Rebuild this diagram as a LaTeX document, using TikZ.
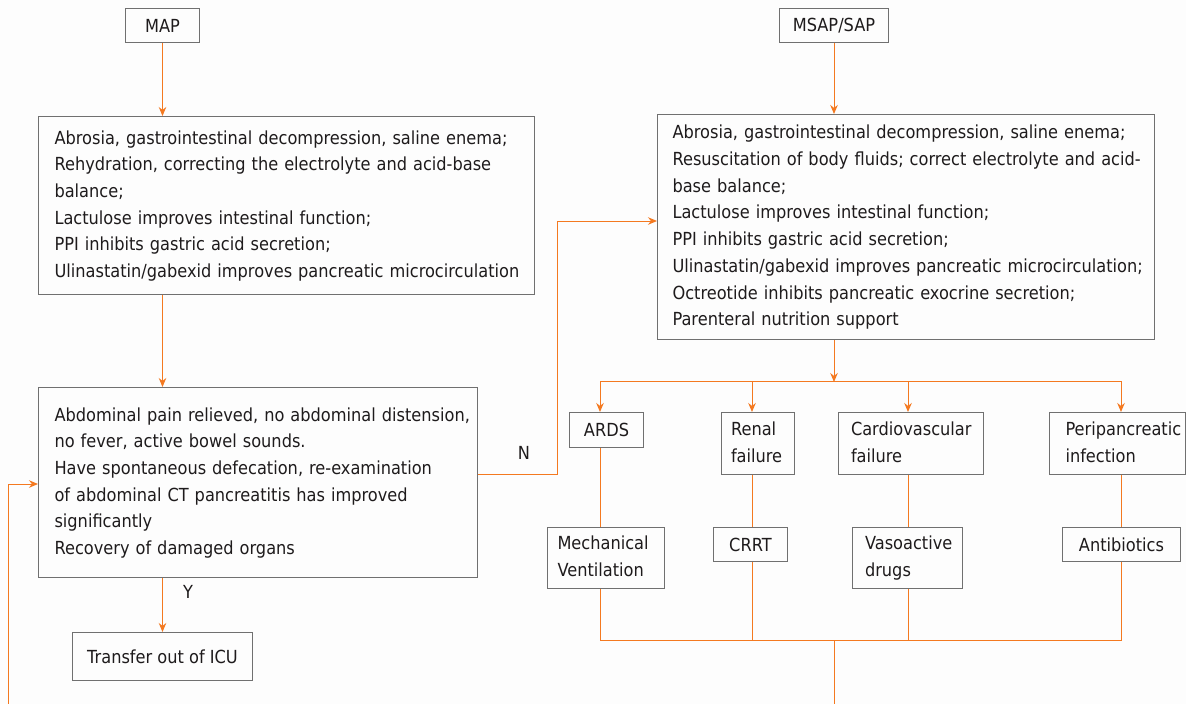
\documentclass[tikz,border=0pt]{standalone}
\usepackage{fontspec}
\setmainfont{DejaVu Sans}[FakeStretch=0.9]
\usetikzlibrary{arrows.meta,calc}
\definecolor{org}{RGB}{244,121,32}
\definecolor{bgray}{RGB}{112,112,112}
\definecolor{txt}{RGB}{30,27,28}
\definecolor{bgcol}{RGB}{253,253,253}
\newcommand{\ls}[1]{\begin{tabular}{@{}l@{}}#1\end{tabular}}
\begin{document}
\begin{tikzpicture}[x=1pt,y=-1pt,
 box/.style={draw=bgray, line width=1pt, text=txt, inner sep=0pt, anchor=north west, font=\fontsize{18pt}{26.7pt}\selectfont},
 lbox/.style={box, align=left},
 conn/.style={draw=org, line width=1pt},
 arr/.style={conn, -{Stealth[length=9pt,width=7.5pt]}},
 lab/.style={text=txt, font=\fontsize{18pt}{26.7pt}\selectfont, inner sep=0pt}]
\fill[bgcol] (0,0) rectangle (1186,704);
\useasboundingbox (0,0) rectangle (1186,704);

% left column
\node[box, minimum width=74pt, minimum height=34pt] (map) at (125,8) {MAP};
\node[lbox, minimum width=496pt, minimum height=178pt, text width=464pt] (b1) at (38,116)
 {\ls{Abrosia, gastrointestinal decompression, saline enema;\\
 Rehydration, correcting the electrolyte and acid-base\\
 balance;\\
 Lactulose improves intestinal function;\\
 PPI inhibits gastric acid secretion;\\
 Ulinastatin/gabexid improves pancreatic microcirculation}};
\node[lbox, minimum width=439pt, minimum height=190pt, text width=407pt] (b2) at (38,387)
 {\ls{Abdominal pain relieved, no abdominal distension,\\
 no fever, active bowel sounds.\\
 Have spontaneous defecation, re-examination\\
 of abdominal CT pancreatitis has improved\\
 significantly\\
 Recovery of damaged organs}};
\node[box, minimum width=180pt, minimum height=48pt] (tr) at (72,632) {Transfer out of ICU};

% right column
\node[box, minimum width=109pt, minimum height=34pt] (msap) at (779,8) {MSAP/SAP};
\node[lbox, minimum width=497pt, minimum height=225pt, text width=467pt] (b3) at (657,114)
 {\ls{Abrosia, gastrointestinal decompression, saline enema;\\
 Resuscitation of body fluids; correct electrolyte and acid-\\
 base balance;\\
 Lactulose improves intestinal function;\\
 PPI inhibits gastric acid secretion;\\
 Ulinastatin/gabexid improves pancreatic microcirculation;\\
 Octreotide inhibits pancreatic exocrine secretion;\\
 Parenteral nutrition support}};

\node[box, minimum width=74pt, minimum height=35pt] (ards) at (569,412) {ARDS};
\node[lbox, minimum width=73pt, minimum height=62pt, text width=54pt] (renal) at (721,412) {\ls{Renal\\ failure}};
\node[lbox, minimum width=145pt, minimum height=62pt, text width=120pt] (cardio) at (838,412) {\ls{Cardiovascular\\ failure}};
\node[lbox, minimum width=136pt, minimum height=62pt, text width=104pt] (peri) at (1049,412) {\ls{Peripancreatic\\ infection}};

\node[lbox, minimum width=117pt, minimum height=61pt, text width=97pt] (mech) at (547,527) {\ls{Mechanical\\ Ventilation}};
\node[box, minimum width=74pt, minimum height=34pt] (crrt) at (713,527) {CRRT};
\node[lbox, minimum width=110pt, minimum height=61pt, text width=85pt] (vaso) at (852,527) {\ls{Vasoactive\\ drugs}};
\node[box, minimum width=118pt, minimum height=34pt] (anti) at (1062,527) {Antibiotics};

% labels
\node[lab] (ylab) at (188,592) {Y};
\node[lab] (nlab) at (524,453) {N};

% connectors left
\draw[arr] (map.south) -- (map.south |- b1.north);
\draw[arr] (b1.south -| map.south) -- (b2.north -| map.south);
\draw[arr] (b2.south -| map.south) -- (tr.north -| map.south);
\draw[arr] ($(b2.north east)+(0,87)$) -- ++(79,0) |- ($(b3.north west)+(0,107)$);
\coordinate (lb) at (8.5,704);
\draw[arr] (lb) |- ($(b2.north west)+(0,97)$);

% connectors right
\draw[arr] (msap.south) -- (msap.south |- b3.north);
\coordinate (j) at ($(msap.south |- b3.south)+(0,42)$);
\draw[arr] (msap.south |- b3.south) -- (j);
\coordinate (c1) at (600,381);
\coordinate (c2) at (752,381);
\coordinate (c3) at (908,381);
\coordinate (c4) at (1121,381);
\draw[conn] (c1) -- (c4);
\draw[arr] (c1) -- (c1 |- ards.north);
\draw[arr] (c2) -- (c2 |- renal.north);
\draw[arr] (c3) -- (c3 |- cardio.north);
\draw[arr] (c4) -- (c4 |- peri.north);
\draw[conn] (ards.south -| c1) -- (mech.north -| c1);
\draw[conn] (renal.south -| c2) -- (crrt.north -| c2);
\draw[conn] (cardio.south -| c3) -- (vaso.north -| c3);
\draw[conn] (peri.south -| c4) -- (anti.north -| c4);
\coordinate (bm) at (j |- 0,640);
\coordinate (be) at (j |- 0,704);
\draw[conn] (mech.south -| c1) -- (c1 |- bm) -- (c4 |- bm) -- (anti.south -| c4);
\draw[conn] (crrt.south -| c2) -- (c2 |- bm);
\draw[conn] (vaso.south -| c3) -- (c3 |- bm);
\draw[conn] (bm) -- (be);
\end{tikzpicture}
\end{document}
